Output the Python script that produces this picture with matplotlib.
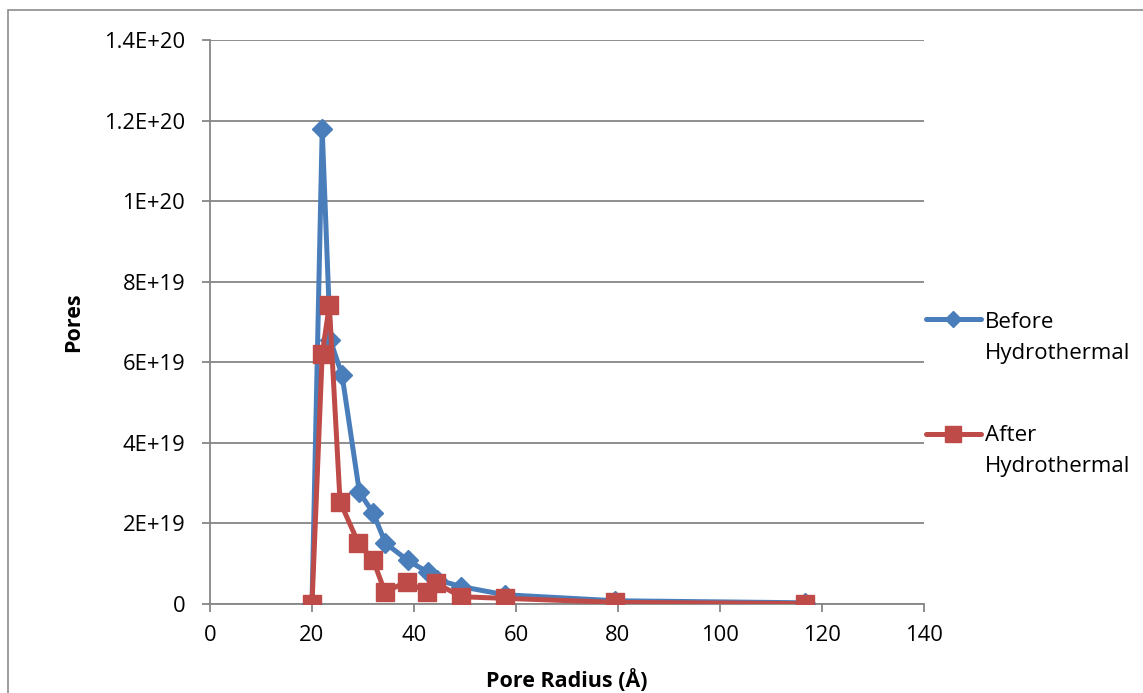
import matplotlib
matplotlib.use("Agg")
import matplotlib.pyplot as plt
from matplotlib.lines import Line2D
from matplotlib.patches import Rectangle

# Pore size distribution data (radius in angstrom, pore count)
before_radius = [20, 22, 23.6, 25.9, 29.3, 32, 34.4, 38.8, 42.7, 44.6, 49.3, 57.8, 79.5, 116.6]
before_pores = [0, 1.178e20, 6.55e19, 5.68e19, 2.77e19, 2.26e19, 1.51e19, 1.08e19,
                7.9e18, 6.0e18, 4.3e18, 2.3e18, 8e17, 3e17]
after_radius = [20, 22, 23.4, 25.5, 29.1, 32, 34.3, 38.6, 42.5, 44.4, 49.3, 57.8, 79.5, 116.6]
after_pores = [0, 6.2e19, 7.42e19, 2.54e19, 1.51e19, 1.09e19, 3.0e18, 5.5e18,
               3.0e18, 5.1e18, 1.8e18, 1.4e18, 4e17, 1e17]

x_ticks = [0, 20, 40, 60, 80, 100, 120, 140]
y_ticks = [0, 2e19, 4e19, 6e19, 8e19, 1e20, 1.2e20, 1.4e20]
y_tick_labels = ["0", "2E+19", "4E+19", "6E+19", "8E+19", "1E+20", "1.2E+20", "1.4E+20"]
series_labels = [("Before", "Hydrothermal"), ("After", "Hydrothermal")]

BLUE = "#4A7EBB"
RED = "#BE4B48"
GRID = "#868686"
FONT = "Open Sans"

W, H = 1143, 693
plt.rcParams["font.family"] = [FONT, "DejaVu Sans"]
fig = plt.figure(figsize=(W / 100, H / 100), dpi=100)

ax = fig.add_axes([210 / W, 1 - 604 / H, 714 / W, 564 / H])

ax.plot(before_radius, before_pores, color=BLUE, lw=3.6, marker="D",
        markersize=10, markerfacecolor=BLUE, markeredgecolor=BLUE, zorder=3,
        solid_joinstyle="round")
ax.plot(after_radius, after_pores, color=RED, lw=3.6, marker="s",
        markersize=13.5, markerfacecolor=RED, markeredgecolor=RED, zorder=4,
        solid_joinstyle="round")

ax.set_xlim(0, 140)
ax.set_ylim(0, 1.4e20)
ax.set_xticks(x_ticks)
ax.set_xticklabels([str(t) for t in x_ticks])
ax.set_yticks(y_ticks)
ax.set_yticklabels(y_tick_labels)

ax.grid(axis="y", color=GRID, lw=1.3)
ax.set_axisbelow(True)
for side in ("top", "right"):
    ax.spines[side].set_visible(False)
for side in ("left", "bottom"):
    ax.spines[side].set_color(GRID)
    ax.spines[side].set_linewidth(1.3)
ax.tick_params(axis="both", colors=GRID, width=1.3, length=6, direction="out",
               labelcolor="black", labelsize=15.8)
ax.tick_params(axis="y", pad=12)
ax.tick_params(axis="x", pad=9)

ax.set_xlabel("Pore Radius (Å)", fontsize=15.5, fontweight="bold", va="baseline")
ax.xaxis.set_label_coords(0.5, (604 - 687) / 564)
ax.set_ylabel("Pores", fontsize=15.5, fontweight="bold", va="center")
ax.yaxis.set_label_coords((74 - 210) / 714, 0.5)

# Legend drawn by hand so the key sits beside the first text line
legend_rows = [(BLUE, "D", 8.5, 319, 328, series_labels[0]),
               (RED, "s", 12, 434, 441, series_labels[1])]
for color, mk, ms, key_y, base_y, (line1, line2) in legend_rows:
    yf = 1 - key_y / H
    fig.add_artist(Line2D([926 / W, 981 / W], [yf, yf], transform=fig.transFigure,
                          color=color, lw=3.6, solid_capstyle="round"))
    fig.add_artist(Line2D([953 / W], [yf], transform=fig.transFigure, color=color,
                          marker=mk, markersize=ms, markerfacecolor=color,
                          markeredgecolor=color, lw=0))
    fig.text(985 / W, 1 - base_y / H, line1, fontsize=16, va="baseline", ha="left")
    fig.text(985 / W, 1 - (base_y + 31) / H, line2, fontsize=16, va="baseline", ha="left")

# Chart frame
fig.add_artist(Rectangle((7.5 / W, -0.1), 1.2, 1 - 9.5 / H + 0.1,
                         transform=fig.transFigure, fill=False,
                         edgecolor="#8c8c8c", lw=1.2))

fig.savefig("out.png", dpi=100)
